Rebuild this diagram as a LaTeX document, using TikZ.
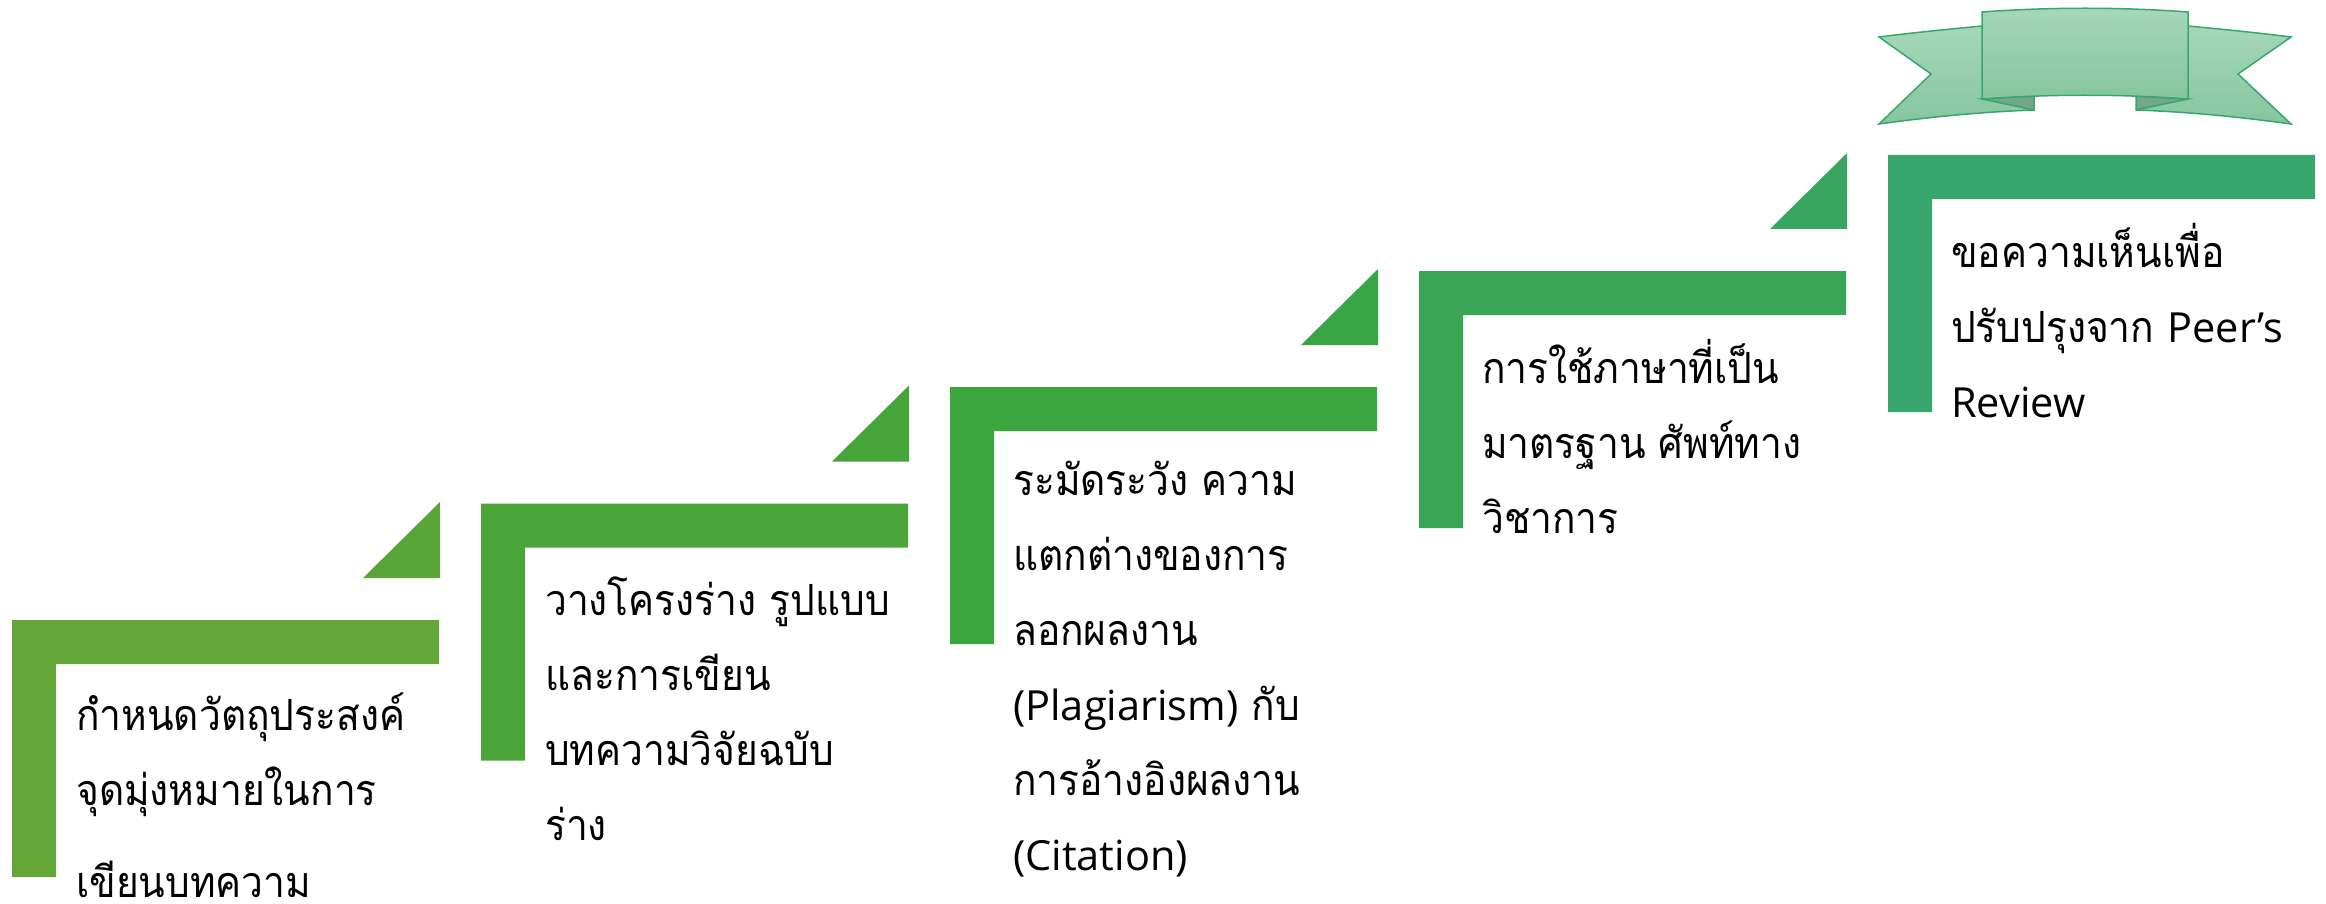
\documentclass[tikz,border=0pt]{standalone}
\usepackage{fontspec}
\newfontfamily\thaifont[Script=Thai,FakeStretch=0.905]{Loma}
\newfontfamily\latinfont{Open Sans}
\newcommand{\lat}[1]{{\latinfont\fontsize{41.5}{75}\selectfont #1}}
\newcommand{\firstln}{\leavevmode\rule{0pt}{60pt}}
\definecolor{cA}{HTML}{65A639}
\definecolor{cB}{HTML}{4CA538}
\definecolor{cC}{HTML}{39A63E}
\definecolor{cD}{HTML}{38A655}
\definecolor{cE}{HTML}{38A76E}
\definecolor{tA}{HTML}{5AA538}
\definecolor{tB}{HTML}{45A538}
\definecolor{tC}{HTML}{38A645}
\definecolor{tD}{HTML}{38A660}
\definecolor{rtop}{HTML}{A6D7B9}
\definecolor{rbot}{HTML}{86C5A0}
\definecolor{rfold}{HTML}{75A58A}
\tikzset{
  x=1pt,y=-1pt,
  steptext/.style={anchor=north west,inner sep=0pt,align=left,font=\thaifont\fontsize{43}{75}\selectfont,text=black},
  ribbon/.style={draw=cE,line width=1.5pt,line join=miter,top color=rtop,bottom color=rbot},
}
\newcommand{\stepshape}[4]{%
  \fill[#3] (#1,#2) -- ++(427,0) -- ++(0,44) -- ++(-383,0) -- ++(0,213) -- ++(-44,0) -- cycle;
  \fill[#4] (#1+351,#2-42) -- (#1+428,#2-42) -- (#1+428,#2-118) -- cycle;
}
\begin{document}
\begin{tikzpicture}
\useasboundingbox (0,0) rectangle (2326,904);
\clip (0,0) rectangle (2326,904);
\stepshape{12}{620}{cA}{tA}
\stepshape{481}{503.5}{cB}{tB}
\stepshape{950}{387}{cC}{tC}
\stepshape{1419}{271}{cD}{tD}
\fill[cE] (1888,155) -- ++(427,0) -- ++(0,44) -- ++(-383,0) -- ++(0,213) -- ++(-44,0) -- cycle;
% ribbon
\path[ribbon] (1879,37) .. controls (1910,33) and (1950,29) .. (1982,26) -- (2034,110) .. controls (1980,112) and (1930,117) .. (1879,124) -- (1931,74) -- cycle;
\path[ribbon] (2291,37) .. controls (2260,33) and (2220,29) .. (2188,26) -- (2136,110) .. controls (2190,112) and (2240,117) .. (2291,124) -- (2238,74) -- cycle;
\fill[white] (2034,95) rectangle (2136,112);
\draw[draw=cE,line width=1.5pt,fill=rfold] (1982,99) -- (2034,110) -- (2034,96) -- cycle;
\draw[draw=cE,line width=1.5pt,fill=rfold] (2188,99) -- (2136,110) -- (2136,96) -- cycle;
\path[ribbon] (1982,12) .. controls (2050,7) and (2120,7) .. (2188,12) -- (2188,99) .. controls (2120,94) and (2050,94) .. (1982,99) -- cycle;
% text
\node[steptext] (t1) at (76,670) {\firstln กำหนดวัตถุประสงค์\\จุดมุ่งหมายในการ\\[17pt]เขียนบทความ};
\node[steptext] (t2) at (545,555) {\firstln วางโครงร่าง รูปแบบ\\และการเขียน\\บทความวิจัยฉบับ\\ร่าง};
\node[steptext] (t3) at (1013,435) {\firstln ระมัดระวัง ความ\\แตกต่างของการ\\ลอกผลงาน\\\lat{(Plagiarism)} กับ\\การอ้างอิงผลงาน\\\lat{(Citation)}};
\node[steptext] (t4) at (1482,323) {\firstln การใช้ภาษาที่เป็น\\มาตรฐาน ศัพท์ทาง\\วิชาการ};
\node[steptext] (t5) at (1951,207) {\firstln ขอความเห็นเพื่อ\\ปรับปรุงจาก \lat{Peer’s}\\\lat{Review}};
\end{tikzpicture}
\end{document}
